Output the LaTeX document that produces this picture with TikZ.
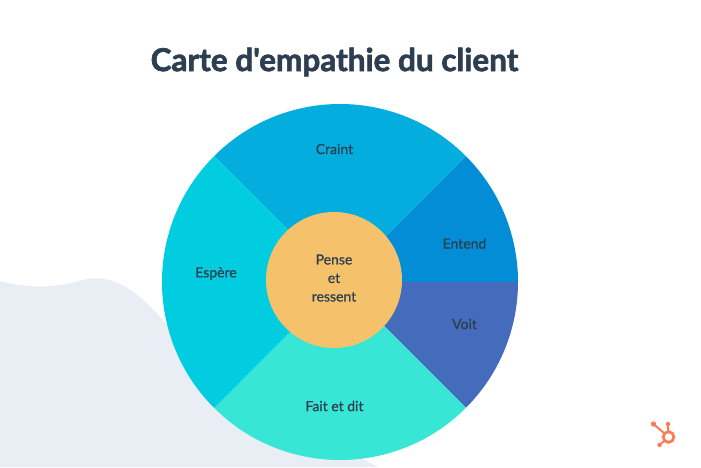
\documentclass[tikz,border=0pt]{standalone}
\usepackage{fontspec}
\setmainfont{Lato}
\newfontfamily\titlefont{Lato}
\definecolor{inkblue}{HTML}{2D3E50}
\definecolor{blobgrey}{HTML}{E9EEF5}
\definecolor{craintblue}{HTML}{03AEDE}
\definecolor{entendblue}{HTML}{028DD6}
\definecolor{voitblue}{HTML}{456CBC}
\definecolor{fairegreen}{HTML}{38E6D6}
\definecolor{espercyan}{HTML}{02CCDF}
\definecolor{penseorange}{HTML}{F5C26B}
\definecolor{spotorange}{HTML}{FF7A59}
\tikzset{
  seclabel/.style={text=inkblue,font=\fontsize{14}{14}\selectfont\addfontfeature{FakeBold=0.7}},
}
\begin{document}
\begin{tikzpicture}[x=1pt,y=1pt]
    \useasboundingbox (0,0) rectangle (701,467);
    \fill[white] (0,0) rectangle (701,467);
    \begin{scope}
      % background blob
      \fill[blobgrey] (0,186) .. controls (22,180) and (50,178) .. (75,185)
        .. controls (100,193) and (125,190) .. (160,150)
        .. controls (185,120) and (300,40) .. (378,0) -- (0,0) -- cycle;
      % wheel
      \coordinate (mid) at (340,185);
      \fill[craintblue] (mid) -- ++(45:178) arc (45:135:178) -- cycle;
      \fill[entendblue] (mid) -- ++(0:178) arc (0:45:178) -- cycle;
      \fill[voitblue] (mid) -- ++(-45:178) arc (-45:0:178) -- cycle;
      \fill[fairegreen] (mid) -- ++(-135:178) arc (-135:-45:178) -- cycle;
      \fill[espercyan] (mid) -- ++(135:178) arc (135:225:178) -- cycle;
      \node[circle,fill=penseorange,minimum size=136pt,inner sep=0pt] (pense) at (334,187) {};
      \node[seclabel,align=center] (pensetxt) at (334,189) {Pense\\[4.5pt]et\\[4.5pt]ressent};
      \node[seclabel] (craint) at (334.5,318) {Craint};
      \node[seclabel] (entend) at (464.5,223.5) {Entend};
      \node[seclabel] (voit) at (464.5,143) {Voit};
      \node[seclabel] (faire) at (334.5,61) {Fait et dit};
      \node[seclabel] (espere) at (216,193.5) {Espère};
      \node[text=inkblue,font=\titlefont\fontsize{31.5}{31.5}\selectfont\bfseries\addfontfeature{FakeBold=2}] (titre) at (334.5,405) {Carte d'empathie du client};
      % logo
      \draw[spotorange,line width=3pt] (668.5,30) circle (5.2);
      \draw[spotorange,line width=2pt] (653.5,43) -- (668.5,30) (668,43) -- (668.5,30) (659.5,22) -- (668.5,30);
      \fill[spotorange] (653.5,43) circle (2.7) (668,43) circle (2.2) (659.5,22) circle (2.2);
      \fill[white] (668.5,30) circle (3.7);
    \end{scope}
\end{tikzpicture}
\end{document}
